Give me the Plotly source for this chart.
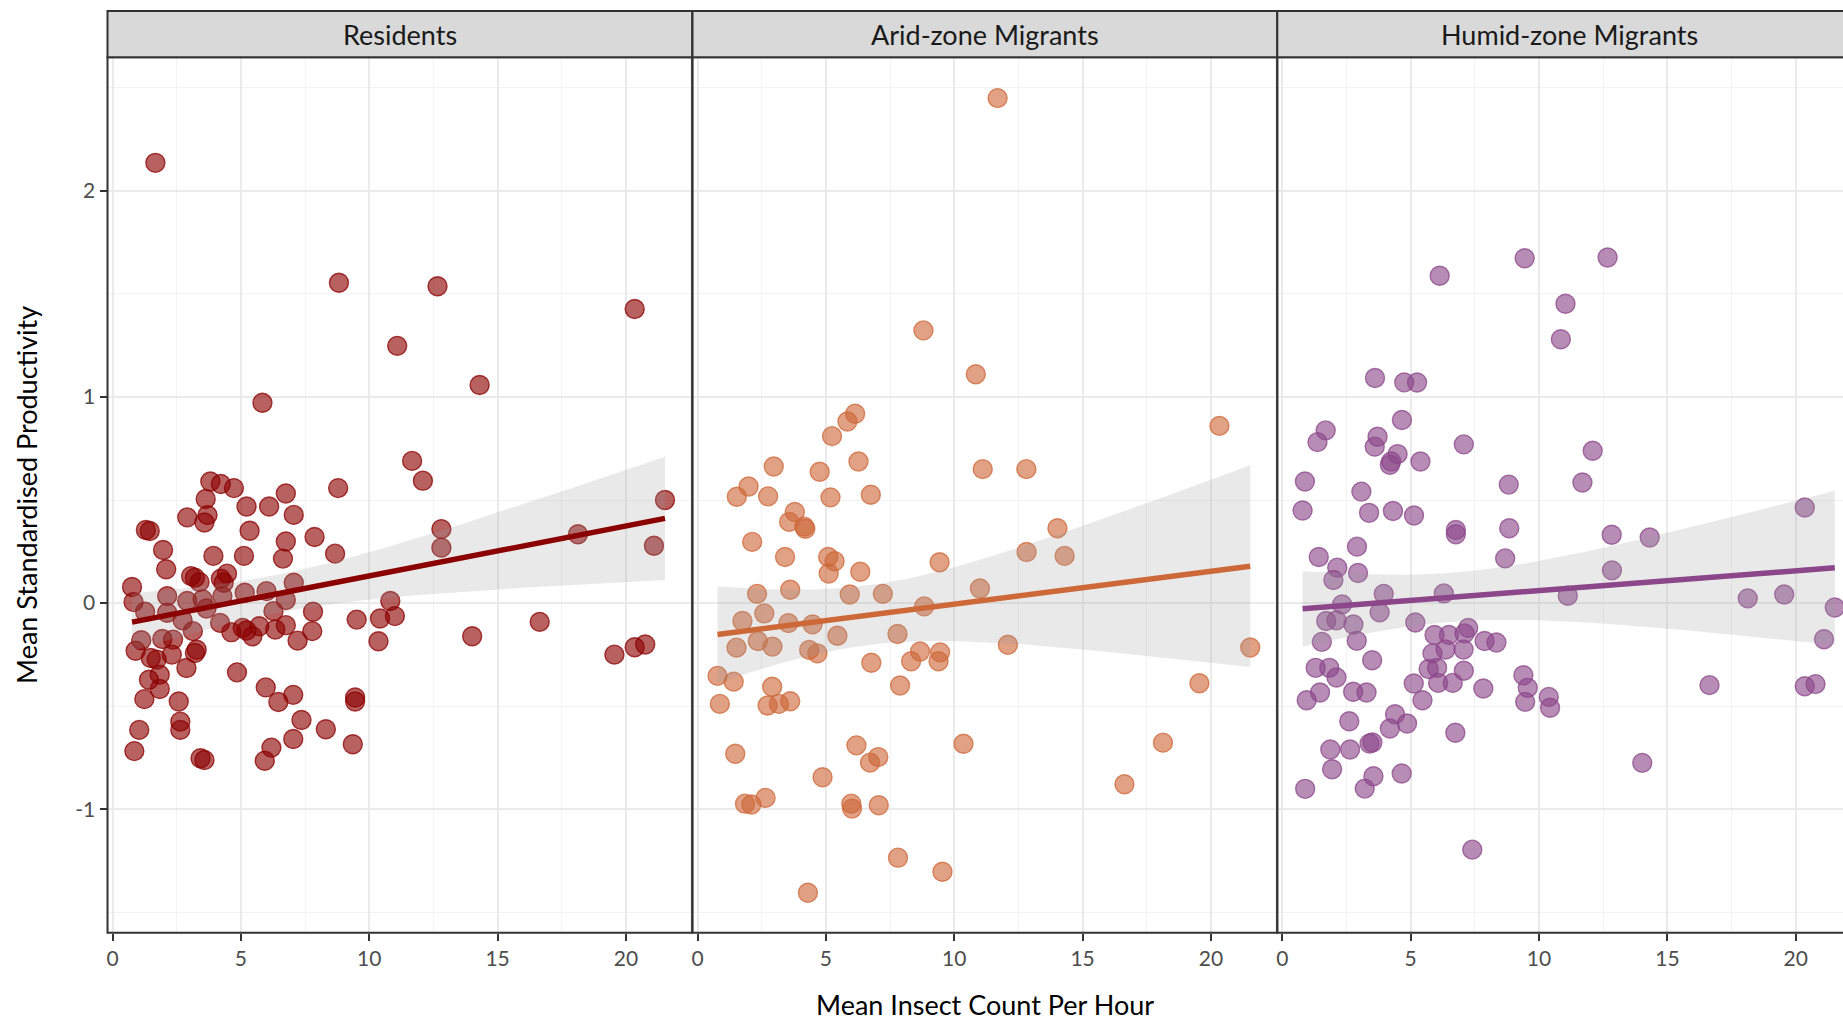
import numpy as np
import plotly.graph_objects as go

# ---- data -------------------------------------------------------------
panels = ["Residents", "Arid-zone Migrants", "Humid-zone Migrants"]
line_colours = ["#8B0000", "#CD6839", "#8B4789"]

residents_x = [1.67, 8.82, 12.66, 20.34, 11.09, 14.3, 5.84, 11.67, 12.09, 3.81, 4.22, 4.73, 6.75, 8.79,
               3.63, 5.22, 6.10, 7.06, 2.91, 3.70, 3.58, 1.30, 1.45, 5.34, 7.87, 6.75, 12.81, 12.81,
               18.13, 21.52, 21.09, 1.97, 3.93, 5.12, 6.64, 8.67, 2.09, 3.06, 3.39, 3.21, 4.22, 4.46,
               4.33, 0.76, 0.82, 1.27, 2.13, 2.13, 2.91, 3.51, 3.66, 4.28, 5.15, 6.0, 7.06, 6.75, 6.27,
               2.73, 3.13, 4.19, 4.63, 5.07, 5.22, 5.45, 5.72, 6.34, 6.75, 7.21, 7.81, 7.78, 9.51,
               10.42, 10.82, 11.0, 10.36, 14.01, 16.64, 19.55, 20.34, 20.75, 1.12, 0.9, 1.94, 2.36,
               2.31, 1.49, 1.72, 2.88, 3.21, 3.28, 1.42, 1.84, 1.84, 1.24, 4.85, 5.97, 6.46, 7.04,
               2.58, 9.45, 9.45, 2.64, 2.64, 1.04, 7.36, 8.31, 7.04, 9.36, 0.85, 3.43, 3.58, 6.19, 5.93]
residents_y = [2.136, 1.554, 1.537, 1.427, 1.248, 1.058, 0.972, 0.69, 0.594, 0.59, 0.578, 0.558, 0.532,
               0.558, 0.505, 0.469, 0.469, 0.428, 0.416, 0.427, 0.391, 0.355, 0.35, 0.351, 0.321, 0.299,
               0.359, 0.269, 0.334, 0.5, 0.278, 0.258, 0.229, 0.229, 0.216, 0.24, 0.164, 0.131, 0.102,
               0.123, 0.118, 0.143, 0.099, 0.078, 0.005, -0.042, 0.034, -0.047, 0.01, 0.018, -0.026,
               0.034, 0.05, 0.058, 0.099, 0.015, -0.039, -0.083, -0.136, -0.096, -0.141, -0.12, -0.133,
               -0.161, -0.112, -0.128, -0.107, -0.182, -0.042, -0.136, -0.08, -0.075, 0.01, -0.063,
               -0.185, -0.161, -0.091, -0.25, -0.214, -0.201, -0.18, -0.231, -0.174, -0.177, -0.25,
               -0.266, -0.274, -0.315, -0.242, -0.226, -0.372, -0.347, -0.417, -0.466, -0.336, -0.409,
               -0.48, -0.445, -0.477, -0.458, -0.477, -0.575, -0.615, -0.615, -0.567, -0.612, -0.659,
               -0.685, -0.718, -0.753, -0.761, -0.701, -0.765]

arid_x = [11.69, 8.80, 10.84, 20.33, 6.14, 5.84, 5.24, 6.27, 2.97, 4.76, 1.99, 1.53, 2.75, 5.18, 6.75,
          11.11, 12.81, 3.79, 3.57, 4.2, 4.16, 2.13, 3.41, 5.09, 5.34, 5.11, 6.34, 9.43, 14.02, 12.82,
          14.3, 2.32, 3.61, 5.93, 7.22, 11.0, 8.83, 1.75, 2.6, 3.54, 4.48, 5.45, 7.79, 1.52, 2.35, 2.92,
          4.35, 4.67, 12.09, 21.53, 6.77, 8.32, 8.67, 9.45, 9.39, 0.78, 1.41, 7.89, 19.55, 2.91, 0.87,
          2.73, 3.17, 3.61, 6.19, 7.04, 6.72, 10.36, 18.13, 1.47, 4.87, 16.63, 1.85, 2.1, 2.65, 5.99,
          6.02, 7.06, 7.81, 9.54, 4.3]
arid_y = [2.45, 1.323, 1.11, 0.86, 0.919, 0.881, 0.81, 0.687, 0.663, 0.637, 0.566, 0.516, 0.518, 0.513,
          0.526, 0.65, 0.65, 0.442, 0.394, 0.361, 0.371, 0.297, 0.224, 0.224, 0.203, 0.144, 0.152,
          0.198, 0.363, 0.248, 0.229, 0.045, 0.065, 0.042, 0.045, 0.071, -0.016, -0.087, -0.05,
          -0.097, -0.103, -0.158, -0.15, -0.216, -0.184, -0.211, -0.227, -0.244, -0.202, -0.215,
          -0.289, -0.282, -0.235, -0.239, -0.282, -0.353, -0.381, -0.4, -0.389, -0.406, -0.489,
          -0.497, -0.489, -0.476, -0.69, -0.747, -0.774, -0.682, -0.677, -0.731, -0.845, -0.879,
          -0.973, -0.977, -0.945, -0.973, -0.997, -0.981, -1.235, -1.303, -1.405]

humid_x = [9.44, 12.67, 6.13, 11.03, 10.85, 3.61, 4.75, 5.25, 4.66, 1.69, 1.37, 3.71, 3.6, 4.49, 4.24,
           4.19, 5.38, 7.07, 12.09, 0.88, 3.08, 8.82, 11.69, 0.79, 3.38, 4.31, 5.13, 20.35, 6.76, 6.76,
           8.84, 12.83, 14.31, 2.91, 1.42, 2.14, 1.99, 2.95, 8.68, 12.84, 3.95, 6.29, 11.12, 18.13,
           19.55, 21.52, 2.33, 3.79, 1.71, 2.11, 2.77, 5.18, 1.54, 2.9, 5.93, 6.49, 7.24, 7.1, 7.88,
           8.34, 21.1, 3.5, 5.85, 6.36, 7.06, 1.3, 1.83, 2.11, 5.7, 6.03, 7.07, 9.39, 9.56, 16.64,
           20.35, 20.77, 5.12, 6.07, 6.64, 7.83, 1.47, 2.76, 3.28, 0.95, 5.46, 9.46, 10.38, 10.43,
           4.39, 4.86, 4.19, 2.61, 6.74, 1.87, 2.64, 3.51, 3.4, 1.94, 3.55, 4.65, 3.21, 0.89, 14.02, 7.4]
humid_y = [1.673, 1.677, 1.588, 1.452, 1.28, 1.092, 1.071, 1.07, 0.888, 0.838, 0.781, 0.807, 0.759,
           0.723, 0.687, 0.671, 0.687, 0.77, 0.739, 0.59, 0.541, 0.575, 0.585, 0.449, 0.438, 0.447,
           0.425, 0.464, 0.355, 0.334, 0.363, 0.332, 0.318, 0.274, 0.224, 0.172, 0.112, 0.146, 0.217,
           0.159, 0.045, 0.047, 0.036, 0.023, 0.042, -0.021, -0.006, -0.045, -0.087, -0.083, -0.104,
           -0.094, -0.188, -0.183, -0.155, -0.155, -0.121, -0.147, -0.184, -0.191, -0.175, -0.277,
           -0.244, -0.225, -0.225, -0.314, -0.314, -0.361, -0.32, -0.314, -0.328, -0.35, -0.411,
           -0.398, -0.403, -0.393, -0.39, -0.387, -0.387, -0.414, -0.434, -0.43, -0.434, -0.471,
           -0.471, -0.479, -0.455, -0.508, -0.539, -0.584, -0.608, -0.573, -0.629, -0.71, -0.71,
           -0.676, -0.681, -0.806, -0.84, -0.827, -0.9, -0.901, -0.775, -1.196]

x_ticks = [0, 5, 10, 15, 20]
y_ticks = [-1, 0, 1, 2]
y_tick_text = ["-1", "0", "1", "2"]

series = [(residents_x, residents_y), (arid_x, arid_y), (humid_x, humid_y)]

# ---- page geometry (pixels) -------------------------------------------
W, H = 1843, 1023
panel_w = 584.7
panel_left = [107.5, 692.5, 1277.3]
panel_top, panel_bottom = 57.3, 932.7
strip_top = 11.0
x_range = [-0.195, 22.58]
y_range = [-1.599, 2.648]
FONT = "Lato"


def px(v):
    return v / W


def py(v):
    return 1 - v / H


def rgba(hex_colour, a):
    h = hex_colour.lstrip("#")
    r, g, b = int(h[0:2], 16), int(h[2:4], 16), int(h[4:6], 16)
    return f"rgba({r},{g},{b},{a})"


def lm_band(x, y, n_grid=80, t_crit=1.984):
    """Ordinary least squares fit with a 95% confidence band."""
    x = np.asarray(x, float)
    y = np.asarray(y, float)
    n = len(x)
    slope, intercept = np.polyfit(x, y, 1)
    resid = y - (intercept + slope * x)
    s = np.sqrt(np.sum(resid ** 2) / (n - 2))
    xbar = x.mean()
    sxx = np.sum((x - xbar) ** 2)
    grid = np.linspace(x.min(), x.max(), n_grid)
    fit = intercept + slope * grid
    se = s * np.sqrt(1 / n + (grid - xbar) ** 2 / sxx)
    return grid, fit, fit - t_crit * se, fit + t_crit * se


fig = go.Figure()
shapes = []
annotations = []

for i, (name, colour, (xs, ys)) in enumerate(zip(panels, line_colours, series)):
    sfx = "" if i == 0 else str(i + 1)
    xa, ya = "x" + sfx, "y" + sfx

    fig.add_trace(go.Scatter(
        x=xs, y=ys, mode="markers", xaxis=xa, yaxis=ya, showlegend=False,
        marker=dict(size=19, color=rgba(colour, 0.62),
                    line=dict(width=1.4, color=rgba(colour, 0.75))),
        hoverinfo="x+y",
    ))

    grid, fit, lo, hi = lm_band(xs, ys)
    fig.add_trace(go.Scatter(
        x=np.concatenate([grid, grid[::-1]]), y=np.concatenate([hi, lo[::-1]]),
        mode="lines", fill="toself", fillcolor="rgba(153,153,153,0.22)",
        line=dict(width=0), xaxis=xa, yaxis=ya, showlegend=False, hoverinfo="skip",
    ))
    fig.add_trace(go.Scatter(
        x=grid, y=fit, mode="lines", line=dict(color=colour, width=5.5),
        xaxis=xa, yaxis=ya, showlegend=False, hoverinfo="skip",
    ))

    left = panel_left[i]
    right = left + panel_w
    dom = [px(left), min(1.0, px(right))]
    rng = list(x_range)
    if px(right) > 1.0:
        # the last facet runs past the page edge
        rng[1] = x_range[0] + (W - left) / panel_w * (x_range[1] - x_range[0])

    grid_style = dict(showgrid=True, gridcolor="#EBEBEB", gridwidth=1.6,
                      minor=dict(showgrid=True, gridcolor="#F3F3F3", gridwidth=1.2))
    fig.update_layout(**{
        "xaxis" + sfx: dict(
            domain=dom, range=rng, anchor=ya, tickvals=x_ticks, ticks="outside",
            ticklen=7, tickwidth=2.2, tickcolor="#333333", zeroline=False, showline=False,
            tickfont=dict(family=FONT, size=21, color="#4D4D4D"),
            minor_tickvals=[2.5, 7.5, 12.5, 17.5, 22.5], **grid_style),
        "yaxis" + sfx: dict(
            domain=[py(panel_bottom), py(panel_top)], range=y_range, anchor=xa,
            tickvals=y_ticks, ticktext=y_tick_text, showticklabels=(i == 0),
            ticks="outside" if i == 0 else "", ticklen=7, tickwidth=2.2, tickcolor="#333333",
            zeroline=False, showline=False,
            tickfont=dict(family=FONT, size=21, color="#4D4D4D"),
            minor_tickvals=[-1.5, -0.5, 0.5, 1.5, 2.5], **grid_style),
    })

    # panel border
    shapes.append(dict(type="rect", xref="paper", yref="paper",
                       x0=px(left), x1=px(right), y0=py(panel_bottom), y1=py(panel_top),
                       line=dict(color="#333333", width=2), fillcolor="rgba(0,0,0,0)",
                       layer="above"))
    # facet strip
    shapes.append(dict(type="rect", xref="paper", yref="paper",
                       x0=px(left), x1=px(right), y0=py(panel_top), y1=py(strip_top),
                       line=dict(color="#333333", width=2), fillcolor="#D9D9D9",
                       layer="above"))
    annotations.append(dict(text=name, xref="paper", yref="paper",
                            x=px(left + panel_w / 2), y=py((strip_top + panel_top) / 2),
                            showarrow=False, xanchor="center", yanchor="middle",
                            font=dict(family=FONT, size=27, color="#1A1A1A")))

annotations.append(dict(text="Mean Insect Count Per Hour", xref="paper", yref="paper",
                        x=px((panel_left[0] + panel_left[2] + panel_w) / 2), y=py(1022),
                        showarrow=False, xanchor="center", yanchor="bottom", borderpad=0,
                        font=dict(family=FONT, size=27, color="#000000")))
annotations.append(dict(text="Mean Standardised Productivity", xref="paper", yref="paper",
                        x=px(26), y=py((panel_top + panel_bottom) / 2), textangle=-90,
                        showarrow=False, xanchor="center", yanchor="middle",
                        font=dict(family=FONT, size=27, color="#000000")))

fig.update_layout(
    width=W, height=H, margin=dict(l=0, r=0, t=0, b=0, pad=0),
    paper_bgcolor="white", plot_bgcolor="white",
    shapes=shapes, annotations=annotations, showlegend=False,
    font=dict(family=FONT),
)

fig.write_html("out.html")
